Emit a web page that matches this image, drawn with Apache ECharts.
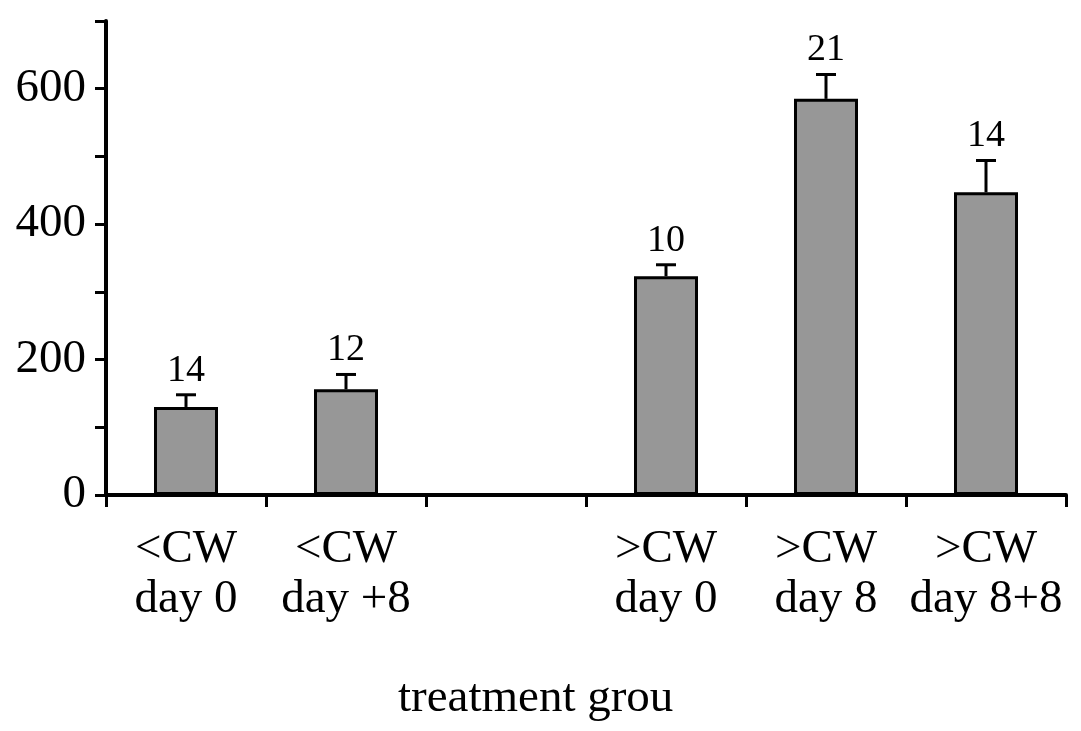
<!DOCTYPE html>
<html>
<head>
<meta charset="utf-8">
<script src="https://cdn.jsdelivr.net/npm/echarts@6/dist/echarts.min.js"></script>
<style>html,body{margin:0;padding:0;background:#fff}#c{width:1081px;height:731px}</style>
</head>
<body>
<div id="c"></div>
<script>
const categories = ['<CW\nday 0', '<CW\nday +8', '', '>CW\nday 0', '>CW\nday 8', '>CW\nday 8+8'];
const means = [130, 156, null, 323, 585, 447];
const errTops = [148, 178, null, 340, 621, 494];
const counts = ['14', '12', '', '10', '21', '14'];
const yTicks = [0, 200, 400, 600];

const FONT = '"Liberation Serif", "Times New Roman", serif';
const chart = echarts.init(document.getElementById('c'), null, {renderer: 'canvas'});

const errData = means.map((m, i) => m == null ? null : [i, m, errTops[i], counts[i]]).filter(d => d);

chart.setOption({
  animation: false,
  backgroundColor: '#fff',
  grid: {left: 106, top: 21, right: 15, bottom: 236, containLabel: false},
  xAxis: {
    type: 'category',
    data: categories,
    boundaryGap: true,
    axisLine: {show: true, lineStyle: {color: '#000', width: 4}},
    axisTick: {show: true, length: 12, lineStyle: {color: '#000', width: 3}, alignWithLabel: false},
    axisLabel: {color: '#000', fontFamily: FONT, fontSize: 47, lineHeight: 50, margin: 30, interval: 0},
    splitLine: {show: false}
  },
  yAxis: {
    type: 'value',
    min: 0, max: 700, interval: 100,
    axisLine: {show: true, lineStyle: {color: '#000', width: 4}},
    axisTick: {show: true, length: 11, lineStyle: {color: '#000', width: 3}},
    axisLabel: {color: '#000', fontFamily: FONT, fontSize: 47, margin: 20,
      formatter: v => yTicks.indexOf(v) >= 0 ? String(v) : ''},
    splitLine: {show: false}
  },
  graphic: [{
    type: 'text', left: 398, top: 675,
    style: {text: 'treatment grou', font: '47px ' + FONT, fill: '#000'}
  }],
  series: [{
    type: 'bar',
    data: means.map(v => v == null ? '-' : v),
    barWidth: '40%',
    itemStyle: {color: '#979797', borderColor: '#000', borderWidth: 3},
    z: 2
  }, {
    type: 'custom',
    data: errData,
    encode: {x: 0, y: 2},
    z: 3,
    renderItem: function (params, api) {
      const i = api.value(0);
      const p0 = api.coord([i, api.value(1)]);
      const p1 = api.coord([i, api.value(2)]);
      const hw = 10;
      return {
        type: 'group',
        children: [
          {type: 'line', shape: {x1: p0[0], y1: p0[1], x2: p1[0], y2: p1[1]}, style: {stroke: '#000', lineWidth: 3}},
          {type: 'line', shape: {x1: p1[0] - hw, y1: p1[1], x2: p1[0] + hw, y2: p1[1]}, style: {stroke: '#000', lineWidth: 3}},
          {type: 'text', x: p1[0], y: p1[1] - 5, style: {text: counts[i], font: '38px ' + FONT, fill: '#000', textAlign: 'center', textVerticalAlign: 'bottom'}}
        ]
      };
    }
  }]
});
</script>
</body>
</html>
